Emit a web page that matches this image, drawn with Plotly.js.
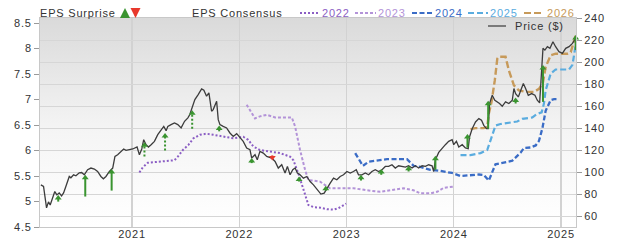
<!DOCTYPE html>
<html><head><meta charset="utf-8">
<script src="https://cdn.plot.ly/plotly-3.0.1.min.js"></script>
<style>html,body{margin:0;padding:0;background:#fff;}#chart{width:620px;height:244px;}text{letter-spacing:0.8px !important;}</style>
</head><body><div id="chart"></div>
<script>
// ---------- DATA ----------
const yearTicks = [2021, 2022, 2023, 2024, 2025];
const yearLabels = ['2021', '2022', '2023', '2024', '2025'];
const epsTicks = [4.5, 5, 5.5, 6, 6.5, 7, 7.5, 8, 8.5];
const epsTickText = ['4.5', '5', '5.5', '6', '6.5', '7', '7.5', '8', '8.5'];
const priceTicks = [60, 80, 100, 120, 140, 160, 180, 200, 220, 240];
const priceTickText = ['60', '80', '100', '120', '140', '160', '180', '200', '220', '240'];

const priceX = [2020.150,2020.175,2020.203,2020.221,2020.237,2020.259,2020.280,2020.299,2020.321,2020.343,2020.362,2020.383,2020.415,2020.430,2020.455,2020.477,2020.508,2020.530,2020.555,2020.586,2020.617,2020.649,2020.679,2020.710,2020.733,2020.757,2020.789,2020.820,2020.841,2020.866,2020.897,2020.922,2020.944,2020.976,2021.007,2021.047,2021.069,2021.091,2021.109,2021.131,2021.153,2021.178,2021.209,2021.240,2021.271,2021.296,2021.318,2021.334,2021.364,2021.396,2021.427,2021.458,2021.490,2021.521,2021.539,2021.570,2021.586,2021.617,2021.649,2021.670,2021.695,2021.717,2021.742,2021.757,2021.789,2021.804,2021.820,2021.850,2021.882,2021.913,2021.944,2021.976,2022.007,2022.037,2022.069,2022.100,2022.116,2022.147,2022.168,2022.193,2022.224,2022.256,2022.303,2022.334,2022.364,2022.396,2022.427,2022.449,2022.474,2022.499,2022.521,2022.542,2022.567,2022.598,2022.630,2022.661,2022.692,2022.729,2022.761,2022.792,2022.817,2022.848,2022.879,2022.910,2022.941,2022.972,2023.004,2023.035,2023.065,2023.091,2023.112,2023.144,2023.175,2023.206,2023.237,2023.268,2023.299,2023.331,2023.362,2023.393,2023.424,2023.455,2023.486,2023.518,2023.549,2023.579,2023.611,2023.642,2023.673,2023.705,2023.736,2023.766,2023.798,2023.813,2023.829,2023.860,2023.892,2023.922,2023.953,2023.985,2024.000,2024.025,2024.047,2024.079,2024.109,2024.135,2024.147,2024.172,2024.203,2024.234,2024.259,2024.280,2024.306,2024.321,2024.334,2024.359,2024.383,2024.406,2024.427,2024.452,2024.483,2024.514,2024.546,2024.561,2024.577,2024.602,2024.623,2024.649,2024.670,2024.695,2024.726,2024.757,2024.779,2024.801,2024.820,2024.832,2024.850,2024.873,2024.897,2024.925,2024.950,2024.981,2025.013,2025.044,2025.075,2025.107,2025.137];
const priceY = [88.8,87.3,67.9,73.4,70.6,77.9,82.7,79.7,81.5,78.8,81.5,87.3,96.4,95.2,97.9,97.0,99.7,100.0,97.9,102.5,104.0,103.1,100.9,96.4,94.3,96.4,100.9,104.0,114.5,116.1,119.1,121.3,120.0,120.6,121.3,123.1,116.1,121.3,129.7,125.2,123.1,125.2,128.2,134.3,138.8,141.8,137.9,141.8,143.4,144.9,143.4,140.4,146.4,149.5,152.5,161.5,166.1,170.6,175.8,174.5,169.1,172.2,155.5,157.0,164.5,147.9,143.4,141.8,140.4,135.8,132.7,135.2,131.3,128.2,122.2,120.6,113.1,116.1,111.5,119.1,117.6,114.5,113.1,110.0,104.0,107.0,99.5,105.5,97.9,102.5,104.0,99.5,97.9,94.9,96.4,91.8,88.8,84.3,80.4,81.3,85.8,90.4,94.9,93.4,96.4,97.9,100.9,99.5,100.9,102.5,97.9,97.9,99.5,97.9,100.9,102.5,100.9,102.5,105.5,105.5,107.0,104.0,106.1,105.5,104.9,106.1,104.0,106.1,104.0,106.1,105.5,107.0,106.1,100.9,111.5,118.2,122.2,125.2,128.2,129.7,125.2,128.2,123.1,125.2,122.2,121.5,132.2,139.7,145.8,148.8,147.3,142.7,139.7,139.7,162.5,170.0,165.5,164.0,162.5,160.0,164.0,162.5,165.5,176.1,171.5,168.5,174.5,180.6,176.1,170.0,171.5,170.0,165.5,163.1,193.4,212.5,210.9,214.0,212.5,218.5,214.0,209.5,207.9,212.5,214.0,217.0,221.5];

const cons2022X = [2021.069,2021.100,2021.147,2021.240,2021.318,2021.396,2021.427,2021.474,2021.526,2021.573,2021.633,2021.695,2021.757,2021.850,2021.944,2022.037,2022.084,2022.131,2022.193,2022.287,2022.380,2022.474,2022.505,2022.551,2022.598,2022.630,2022.645,2022.692,2022.754,2022.817,2022.879,2022.925,2022.972,2022.997];
const cons2022Y = [5.57,5.67,5.76,5.78,5.80,5.81,5.88,6.01,6.11,6.24,6.31,6.33,6.31,6.27,6.24,6.27,6.21,6.08,6.01,5.98,5.95,5.88,5.81,5.55,5.22,5.03,4.93,4.89,4.88,4.85,4.84,4.87,4.93,4.96];
const cons2023X = [2022.069,2022.147,2022.193,2022.256,2022.334,2022.490,2022.521,2022.567,2022.614,2022.645,2022.692,2022.754,2022.801,2022.848,2022.941,2023.065,2023.191,2023.315,2023.408,2023.533,2023.626,2023.689,2023.782,2023.845,2023.907,2023.994];
const cons2023Y = [6.90,6.63,6.67,6.70,6.65,6.65,6.47,6.01,5.62,5.42,5.41,5.39,5.32,5.26,5.26,5.26,5.22,5.19,5.22,5.26,5.22,5.16,5.16,5.19,5.27,5.29];
const cons2024X = [2023.081,2023.121,2023.153,2023.206,2023.299,2023.378,2023.564,2023.626,2023.689,2023.782,2023.876,2023.985,2024.063,2024.156,2024.234,2024.280,2024.327,2024.389,2024.497,2024.546,2024.624,2024.654,2024.717,2024.764,2024.795,2024.827,2024.857,2024.904,2024.935,2024.981];
const cons2024Y = [5.95,5.81,5.70,5.78,5.80,5.83,5.83,5.70,5.68,5.62,5.60,5.56,5.50,5.52,5.53,5.52,5.41,5.73,5.77,5.80,5.96,6.05,6.06,6.10,6.19,6.44,6.78,6.99,7.01,7.01];
const cons2025X = [2024.063,2024.156,2024.250,2024.312,2024.343,2024.389,2024.436,2024.592,2024.639,2024.733,2024.779,2024.820,2024.841,2024.857,2024.904,2024.950,2025.075,2025.107,2025.137];
const cons2025Y = [5.91,5.91,5.95,6.01,6.20,6.49,6.52,6.57,6.62,6.65,6.72,6.75,6.92,7.18,7.51,7.59,7.59,7.68,8.07];
const cons2026X = [2024.156,2024.203,2024.280,2024.312,2024.327,2024.352,2024.383,2024.406,2024.421,2024.483,2024.514,2024.561,2024.607,2024.670,2024.748,2024.795,2024.832,2024.857,2024.904,2024.950,2025.060,2025.091,2025.137];
const cons2026Y = [6.42,6.44,6.44,6.46,6.72,6.95,7.38,7.80,7.84,7.84,7.57,7.28,7.18,7.15,7.15,7.21,7.34,7.64,7.87,7.90,7.90,7.93,8.26];

const surpriseX = [2020.312,2020.564,2020.810,2021.116,2021.308,2021.561,2021.813,2022.116,2022.308,2022.558,2022.807,2023.135,2023.324,2023.579,2023.829,2024.128,2024.321,2024.577,2024.832,2025.137];
const surpriseFrom = [73.6,78.2,83.6,114.5,120.0,139.7,137.3,108.5,115.5,91.8,83.6,92.7,97.9,100.9,102.5,122.5,139.7,162.5,164.0,210.9];
const surpriseTo = [79.7,97.9,103.1,127.3,135.8,156.4,142.5,113.1,110.9,96.4,87.9,97.9,103.1,106.1,115.2,134.9,164.9,167.9,197.3,224.5];
const surpriseDotted = [false,false,false,true,true,true,false,false,false,false,false,false,false,false,false,false,false,false,false,false];

const consNames = ['2022', '2023', '2024', '2025', '2026'];

// ---------- STYLE / LAYOUT ----------
const FONT = 'Liberation Sans, Arial, Helvetica, sans-serif';
const TXT = '#333333';
const consColors = ['#8b5ec4', '#b393d8', '#3a6cc6', '#5aacdf', '#c79a5a'];
const consDash = ['2px,2px', '3px,2px', '5px,2.5px', '6px,3px', '7px,3px'];
const consWidth = [2, 2, 2.3, 2.2, 2.4];
const GREEN = '#3a9430', RED = '#e8382c';

const W = 620, H = 244;
const M = {l: 40, r: 44, t: 18, b: 17};
const xRange = [2020.142, 2025.14];
const yRange = [4.5, 8.6];
const y2Range = [50.6, 240];
const plotH = H - M.t - M.b, plotW = W - M.l - M.r;
const unitsPerPx2 = (y2Range[1] - y2Range[0]) / plotH;
const HEAD = 6;
const headOff = (HEAD / 2) * unitsPerPx2;

const traces = [];
const consX = [cons2022X, cons2023X, cons2024X, cons2025X, cons2026X];
const consY = [cons2022Y, cons2023Y, cons2024Y, cons2025Y, cons2026Y];
for (let i = 0; i < 5; i++) {
  traces.push({x: consX[i], y: consY[i], type: 'scatter', mode: 'lines', yaxis: 'y',
    name: consNames[i], line: {color: consColors[i], width: consWidth[i], dash: consDash[i]},
    hoverinfo: 'skip', showlegend: false});
}
traces.push({x: priceX, y: priceY, type: 'scatter', mode: 'lines', yaxis: 'y2', name: 'Price ($)',
  line: {color: '#3c3c3c', width: 1.3}, showlegend: false, hoverinfo: 'skip'});

function stems(dotted, up) {
  const xs = [], ys = [];
  surpriseX.forEach((x, i) => {
    const isUp = surpriseTo[i] > surpriseFrom[i];
    if (surpriseDotted[i] !== dotted || isUp !== up) return;
    const end = isUp ? surpriseTo[i] - headOff : surpriseTo[i] + headOff;
    xs.push(x, x, null); ys.push(surpriseFrom[i], end, null);
  });
  return {xs, ys};
}
[[false, true, GREEN, 'solid'], [true, true, GREEN, '2px,2px'], [false, false, RED, 'solid']].forEach(([d, u, c, dash]) => {
  const s = stems(d, u);
  traces.push({x: s.xs, y: s.ys, type: 'scatter', mode: 'lines', yaxis: 'y2', connectgaps: false,
    line: {color: c, width: 2, dash: dash}, showlegend: false, hoverinfo: 'skip', cliponaxis: false});
});
const upX = [], upY = [], dnX = [], dnY = [];
surpriseX.forEach((x, i) => {
  if (surpriseTo[i] > surpriseFrom[i]) { upX.push(x); upY.push(surpriseTo[i] - headOff); }
  else { dnX.push(x); dnY.push(surpriseTo[i] + headOff); }
});
traces.push({x: upX, y: upY, type: 'scatter', mode: 'markers', yaxis: 'y2', cliponaxis: false,
  marker: {symbol: 'triangle-up', size: HEAD, color: GREEN, line: {width: 0}}, showlegend: false, hoverinfo: 'skip'});
traces.push({x: dnX, y: dnY, type: 'scatter', mode: 'markers', yaxis: 'y2', cliponaxis: false,
  marker: {symbol: 'triangle-down', size: HEAD, color: RED, line: {width: 0}}, showlegend: false, hoverinfo: 'skip'});

// legend built from pixel positions
const px = v => (v - M.l) / plotW;
const py = v => (H - M.b - v) / plotH;
const FS = 11;
const annotations = [];
function txt(t, x, y, color) {
  annotations.push({text: t, x: px(x), y: py(y), xref: 'paper', yref: 'paper', xanchor: 'left', yanchor: 'middle',
    showarrow: false, font: {family: FONT, size: FS, color: color}, borderpad: 0});
}
txt('EPS Surprise', 39, 13, TXT);
txt('EPS Consensus', 191, 13, TXT);
const legTextX = [321, 377, 434, 489, 546];
legTextX.forEach((x, i) => txt(consNames[i], x, 13, consColors[i]));
txt('Price ($)', 514, 26, TXT);
annotations.push({text: '', x: px(125), y: py(8), xref: 'paper', yref: 'paper', showarrow: true, ax: 0, ay: 10,
  arrowhead: 2, arrowsize: 1, arrowwidth: 2, arrowcolor: GREEN, standoff: 0});
annotations.push({text: '', x: px(135.5), y: py(18), xref: 'paper', yref: 'paper', showarrow: true, ax: 0, ay: -10,
  arrowhead: 2, arrowsize: 1, arrowwidth: 2, arrowcolor: RED, standoff: 0});

const legLineX = [[300, 319], [355, 376], [412, 432], [468, 488], [524, 544]];
const shapes = legLineX.map((p, i) => ({type: 'line', xref: 'paper', yref: 'paper', x0: px(p[0]), x1: px(p[1]),
  y0: py(13), y1: py(13), line: {color: consColors[i], width: 2, dash: consDash[i]}}));
shapes.push({type: 'line', xref: 'paper', yref: 'paper', x0: px(488), x1: px(506), y0: py(26), y1: py(26),
  line: {color: '#444', width: 1.3}});

const grad = '<svg xmlns="http://www.w3.org/2000/svg" width="100" height="100" preserveAspectRatio="none">' +
  '<defs><linearGradient id="g" x1="0" y1="0" x2="0" y2="1">' +
  '<stop offset="0" stop-color="#dadada"/><stop offset="0.55" stop-color="#f5f5f5"/><stop offset="1" stop-color="#ffffff"/>' +
  '</linearGradient></defs><rect width="100" height="100" fill="url(#g)"/></svg>';

const axFont = {family: FONT, size: FS, color: TXT};
const layout = {
  width: W, height: H, margin: M,
  paper_bgcolor: '#ffffff', plot_bgcolor: 'rgba(0,0,0,0)',
  showlegend: false,
  images: [{source: 'data:image/svg+xml;base64,' + btoa(grad), xref: 'paper', yref: 'paper', x: 0, y: 1,
    sizex: 1, sizey: 1, sizing: 'stretch', layer: 'below', xanchor: 'left', yanchor: 'top'}],
  xaxis: {type: 'linear', range: xRange, tickvals: yearTicks, ticktext: yearLabels, showgrid: true,
    gridcolor: '#d2d2d2', gridwidth: 1.5, zeroline: false, ticks: '', tickfont: axFont, ticklabelstandoff: -3,
    showline: true, mirror: true, linecolor: '#c8c8c8', linewidth: 1},
  yaxis: {range: yRange, tickvals: epsTicks, ticktext: epsTickText, showgrid: false, zeroline: false,
    ticks: 'outside', ticklen: 5, tickcolor: '#9a9a9a', tickfont: axFont, showline: true, linecolor: '#c8c8c8'},
  yaxis2: {range: y2Range, overlaying: 'y', side: 'right', tickvals: priceTicks, ticktext: priceTickText,
    showgrid: true, gridcolor: '#d6d6d6', gridwidth: 1, zeroline: false, ticks: 'outside', ticklen: 5,
    tickcolor: '#9a9a9a', tickfont: axFont, showline: true, linecolor: '#c8c8c8'},
  annotations: annotations, shapes: shapes
};
Plotly.newPlot('chart', traces, layout, {staticPlot: true, displayModeBar: false});
</script></body></html>
